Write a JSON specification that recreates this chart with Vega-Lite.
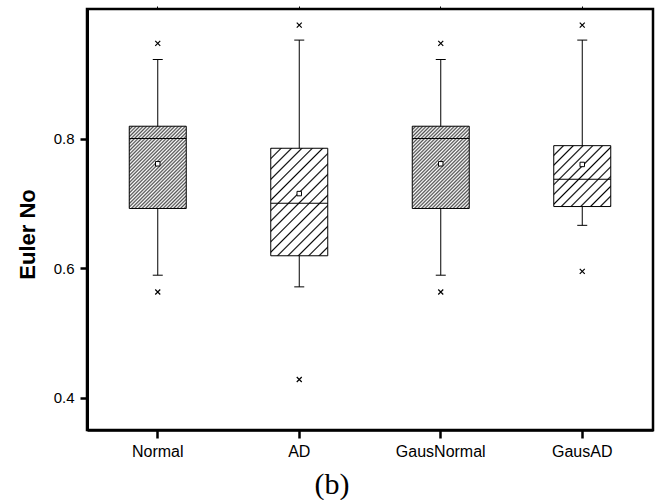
{
  "$schema": "https://vega.github.io/schema/vega-lite/v6.json",
  "width": 566,
  "height": 421,
  "autosize": {"type": "none"},
  "padding": {"left": 87, "top": 9, "right": 4, "bottom": 70},
  "background": "white",
  "title": {
    "text": "(b)",
    "orient": "bottom",
    "anchor": "middle",
    "font": "Liberation Serif",
    "fontSize": 30,
    "fontWeight": "normal",
    "color": "black",
    "dx": -38,
    "offset": 11
  },
  "datasets": {
    "stats": [
      {"group": "Normal", "lower": 0.589, "q1": 0.692, "median": 0.800, "q3": 0.819, "upper": 0.922, "mean": 0.761},
      {"group": "AD", "lower": 0.571, "q1": 0.619, "median": 0.700, "q3": 0.785, "upper": 0.952, "mean": 0.715},
      {"group": "GausNormal", "lower": 0.589, "q1": 0.692, "median": 0.800, "q3": 0.819, "upper": 0.922, "mean": 0.761},
      {"group": "GausAD", "lower": 0.666, "q1": 0.695, "median": 0.737, "q3": 0.789, "upper": 0.952, "mean": 0.760}
    ],
    "outliers": [
      {"group": "Normal", "value": 0.947},
      {"group": "Normal", "value": 0.563},
      {"group": "AD", "value": 0.975},
      {"group": "AD", "value": 0.428},
      {"group": "GausNormal", "value": 0.947},
      {"group": "GausNormal", "value": 0.563},
      {"group": "GausAD", "value": 0.975},
      {"group": "GausAD", "value": 0.595}
    ]
  },
  "resolve": {"axis": {"x": "independent", "y": "independent"}},
  "layer": [
    {
      "data": {"name": "stats"},
      "mark": {"type": "rule", "color": "black", "strokeWidth": 1},
      "encoding": {
        "x": {
          "field": "group", "type": "nominal",
          "scale": {"domain": ["Normal", "AD", "GausNormal", "GausAD"], "paddingInner": 0, "paddingOuter": 0},
          "axis": {
            "orient": "bottom", "title": null, "labelAngle": 0, "labelFontSize": 16,
            "labelPadding": 5, "tickSize": 8, "tickWidth": 2.5, "domainWidth": 2.5, "grid": false
          }
        },
        "y": {
          "field": "lower", "type": "quantitative",
          "scale": {"domain": [0.35, 1.0], "zero": false, "nice": false},
          "axis": {
            "values": [0.4, 0.6, 0.8], "format": ".1f", "title": "Euler No",
            "labelFontSize": 15, "labelPadding": 6,
            "tickSize": 7, "tickWidth": 2.5, "domainWidth": 3, "grid": false,
            "titleFontSize": 22, "titleFontWeight": "bold",
            "titleAngle": 270, "titleAlign": "center", "titleBaseline": "alphabetic",
            "titleX": -53, "titleY": 225
          }
        },
        "y2": {"field": "upper"}
      }
    },
    {
      "data": {"name": "stats"},
      "mark": {"type": "tick", "color": "black", "thickness": 1, "size": 10, "opacity": 1},
      "encoding": {
        "x": {"field": "group", "type": "nominal", "axis": null},
        "y": {"field": "lower", "type": "quantitative", "axis": null}
      }
    },
    {
      "data": {"name": "stats"},
      "mark": {"type": "tick", "color": "black", "thickness": 1, "size": 10, "opacity": 1},
      "encoding": {
        "x": {"field": "group", "type": "nominal", "axis": null},
        "y": {"field": "upper", "type": "quantitative", "axis": null}
      }
    },
    {
      "data": {"name": "stats"},
      "transform": [{"filter": "datum.group === 'Normal' || datum.group === 'GausNormal'"}],
      "mark": {
        "type": "bar", "width": 57, "stroke": "black", "strokeWidth": 1, "opacity": 1,
        "fill": {
          "gradient": "linear", "x1": 0, "y1": 0, "x2": 1, "y2": 1.443,
          "stops": [
            {"offset": 0.00, "color": "#505050"}, {"offset": 0.01, "color": "white"},
            {"offset": 0.02, "color": "#505050"}, {"offset": 0.03, "color": "white"},
            {"offset": 0.04, "color": "#505050"}, {"offset": 0.05, "color": "white"},
            {"offset": 0.06, "color": "#505050"}, {"offset": 0.07, "color": "white"},
            {"offset": 0.08, "color": "#505050"}, {"offset": 0.09, "color": "white"},
            {"offset": 0.10, "color": "#505050"}, {"offset": 0.11, "color": "white"},
            {"offset": 0.12, "color": "#505050"}, {"offset": 0.13, "color": "white"},
            {"offset": 0.14, "color": "#505050"}, {"offset": 0.15, "color": "white"},
            {"offset": 0.16, "color": "#505050"}, {"offset": 0.17, "color": "white"},
            {"offset": 0.18, "color": "#505050"}, {"offset": 0.19, "color": "white"},
            {"offset": 0.20, "color": "#505050"}, {"offset": 0.21, "color": "white"},
            {"offset": 0.22, "color": "#505050"}, {"offset": 0.23, "color": "white"},
            {"offset": 0.24, "color": "#505050"}, {"offset": 0.25, "color": "white"},
            {"offset": 0.26, "color": "#505050"}, {"offset": 0.27, "color": "white"},
            {"offset": 0.28, "color": "#505050"}, {"offset": 0.29, "color": "white"},
            {"offset": 0.30, "color": "#505050"}, {"offset": 0.31, "color": "white"},
            {"offset": 0.32, "color": "#505050"}, {"offset": 0.33, "color": "white"},
            {"offset": 0.34, "color": "#505050"}, {"offset": 0.35, "color": "white"},
            {"offset": 0.36, "color": "#505050"}, {"offset": 0.37, "color": "white"},
            {"offset": 0.38, "color": "#505050"}, {"offset": 0.39, "color": "white"},
            {"offset": 0.40, "color": "#505050"}, {"offset": 0.41, "color": "white"},
            {"offset": 0.42, "color": "#505050"}, {"offset": 0.43, "color": "white"},
            {"offset": 0.44, "color": "#505050"}, {"offset": 0.45, "color": "white"},
            {"offset": 0.46, "color": "#505050"}, {"offset": 0.47, "color": "white"},
            {"offset": 0.48, "color": "#505050"}, {"offset": 0.49, "color": "white"},
            {"offset": 0.50, "color": "#505050"}, {"offset": 0.51, "color": "white"},
            {"offset": 0.52, "color": "#505050"}, {"offset": 0.53, "color": "white"},
            {"offset": 0.54, "color": "#505050"}, {"offset": 0.55, "color": "white"},
            {"offset": 0.56, "color": "#505050"}, {"offset": 0.57, "color": "white"},
            {"offset": 0.58, "color": "#505050"}, {"offset": 0.59, "color": "white"},
            {"offset": 0.60, "color": "#505050"}, {"offset": 0.61, "color": "white"},
            {"offset": 0.62, "color": "#505050"}, {"offset": 0.63, "color": "white"},
            {"offset": 0.64, "color": "#505050"}, {"offset": 0.65, "color": "white"},
            {"offset": 0.66, "color": "#505050"}, {"offset": 0.67, "color": "white"},
            {"offset": 0.68, "color": "#505050"}, {"offset": 0.69, "color": "white"},
            {"offset": 0.70, "color": "#505050"}, {"offset": 0.71, "color": "white"},
            {"offset": 0.72, "color": "#505050"}, {"offset": 0.73, "color": "white"},
            {"offset": 0.74, "color": "#505050"}, {"offset": 0.75, "color": "white"},
            {"offset": 0.76, "color": "#505050"}, {"offset": 0.77, "color": "white"},
            {"offset": 0.78, "color": "#505050"}, {"offset": 0.79, "color": "white"},
            {"offset": 0.80, "color": "#505050"}
          ]
        }
      },
      "encoding": {
        "x": {"field": "group", "type": "nominal", "axis": null},
        "y": {"field": "q1", "type": "quantitative", "axis": null},
        "y2": {"field": "q3"}
      }
    },
    {
      "data": {"name": "stats"},
      "transform": [{"filter": "datum.group === 'AD'"}],
      "mark": {
        "type": "bar", "width": 57, "stroke": "black", "strokeWidth": 1, "opacity": 1,
        "fill": {
          "gradient": "linear", "x1": 0, "y1": 0, "x2": 1, "y2": 1.886,
          "stops": [
            {"offset": 0.000, "color": "black"}, {"offset": 0.006, "color": "white"}, {"offset": 0.034, "color": "white"},
            {"offset": 0.040, "color": "black"}, {"offset": 0.046, "color": "white"}, {"offset": 0.074, "color": "white"},
            {"offset": 0.080, "color": "black"}, {"offset": 0.086, "color": "white"}, {"offset": 0.114, "color": "white"},
            {"offset": 0.120, "color": "black"}, {"offset": 0.126, "color": "white"}, {"offset": 0.154, "color": "white"},
            {"offset": 0.160, "color": "black"}, {"offset": 0.166, "color": "white"}, {"offset": 0.194, "color": "white"},
            {"offset": 0.200, "color": "black"}, {"offset": 0.206, "color": "white"}, {"offset": 0.234, "color": "white"},
            {"offset": 0.240, "color": "black"}, {"offset": 0.246, "color": "white"}, {"offset": 0.274, "color": "white"},
            {"offset": 0.280, "color": "black"}, {"offset": 0.286, "color": "white"}, {"offset": 0.314, "color": "white"},
            {"offset": 0.320, "color": "black"}, {"offset": 0.326, "color": "white"}, {"offset": 0.354, "color": "white"},
            {"offset": 0.360, "color": "black"}, {"offset": 0.366, "color": "white"}, {"offset": 0.394, "color": "white"},
            {"offset": 0.400, "color": "black"}, {"offset": 0.406, "color": "white"}, {"offset": 0.434, "color": "white"},
            {"offset": 0.440, "color": "black"}, {"offset": 0.446, "color": "white"}, {"offset": 0.474, "color": "white"},
            {"offset": 0.480, "color": "black"}, {"offset": 0.486, "color": "white"}, {"offset": 0.514, "color": "white"},
            {"offset": 0.520, "color": "black"}, {"offset": 0.526, "color": "white"}, {"offset": 0.554, "color": "white"},
            {"offset": 0.560, "color": "black"}, {"offset": 0.566, "color": "white"}, {"offset": 0.594, "color": "white"},
            {"offset": 0.600, "color": "black"}, {"offset": 0.606, "color": "white"}, {"offset": 0.634, "color": "white"},
            {"offset": 0.640, "color": "black"}, {"offset": 0.646, "color": "white"}
          ]
        }
      },
      "encoding": {
        "x": {"field": "group", "type": "nominal", "axis": null},
        "y": {"field": "q1", "type": "quantitative", "axis": null},
        "y2": {"field": "q3"}
      }
    },
    {
      "data": {"name": "stats"},
      "transform": [{"filter": "datum.group === 'GausAD'"}],
      "mark": {
        "type": "bar", "width": 57, "stroke": "black", "strokeWidth": 1, "opacity": 1,
        "fill": {
          "gradient": "linear", "x1": 0, "y1": 0, "x2": 1, "y2": 1.068,
          "stops": [
            {"offset": 0.000, "color": "black"}, {"offset": 0.013, "color": "white"}, {"offset": 0.067, "color": "white"},
            {"offset": 0.080, "color": "black"}, {"offset": 0.093, "color": "white"}, {"offset": 0.147, "color": "white"},
            {"offset": 0.160, "color": "black"}, {"offset": 0.173, "color": "white"}, {"offset": 0.227, "color": "white"},
            {"offset": 0.240, "color": "black"}, {"offset": 0.253, "color": "white"}, {"offset": 0.307, "color": "white"},
            {"offset": 0.320, "color": "black"}, {"offset": 0.333, "color": "white"}, {"offset": 0.387, "color": "white"},
            {"offset": 0.400, "color": "black"}, {"offset": 0.413, "color": "white"}, {"offset": 0.467, "color": "white"},
            {"offset": 0.480, "color": "black"}, {"offset": 0.493, "color": "white"}, {"offset": 0.547, "color": "white"},
            {"offset": 0.560, "color": "black"}, {"offset": 0.573, "color": "white"}, {"offset": 0.627, "color": "white"},
            {"offset": 0.640, "color": "black"}, {"offset": 0.653, "color": "white"}, {"offset": 0.707, "color": "white"},
            {"offset": 0.720, "color": "black"}, {"offset": 0.733, "color": "white"}, {"offset": 0.787, "color": "white"},
            {"offset": 0.800, "color": "black"}, {"offset": 0.813, "color": "white"}, {"offset": 0.867, "color": "white"},
            {"offset": 0.880, "color": "black"}, {"offset": 0.893, "color": "white"}, {"offset": 0.947, "color": "white"},
            {"offset": 0.960, "color": "black"}, {"offset": 0.973, "color": "white"}
          ]
        }
      },
      "encoding": {
        "x": {"field": "group", "type": "nominal", "axis": null},
        "y": {"field": "q1", "type": "quantitative", "axis": null},
        "y2": {"field": "q3"}
      }
    },
    {
      "data": {"name": "stats"},
      "mark": {"type": "tick", "color": "black", "thickness": 1, "size": 57, "opacity": 1},
      "encoding": {
        "x": {"field": "group", "type": "nominal", "axis": null},
        "y": {"field": "median", "type": "quantitative", "axis": null}
      }
    },
    {
      "data": {"name": "stats"},
      "mark": {"type": "point", "shape": "square", "size": 20, "filled": true, "fill": "white", "stroke": "black", "strokeWidth": 1, "opacity": 1},
      "encoding": {
        "x": {"field": "group", "type": "nominal", "axis": null},
        "y": {"field": "mean", "type": "quantitative", "axis": null}
      }
    },
    {
      "data": {"name": "outliers"},
      "mark": {"type": "point", "shape": "M-1,-1L1,1M1,-1L-1,1", "size": 25, "filled": false, "stroke": "black", "strokeWidth": 1.2, "opacity": 1},
      "encoding": {
        "x": {
          "field": "group", "type": "nominal",
          "axis": {"orient": "top", "labels": false, "domain": false, "title": null, "tickSize": 3, "tickWidth": 1, "grid": false}
        },
        "y": {"field": "value", "type": "quantitative", "axis": null}
      }
    }
  ],
  "config": {
    "view": {"stroke": "black", "strokeWidth": 2.5},
    "axis": {
      "labelFont": "Liberation Sans", "titleFont": "Liberation Sans",
      "labelColor": "black", "titleColor": "black",
      "domainColor": "black", "tickColor": "black", "grid": false
    }
  }
}
